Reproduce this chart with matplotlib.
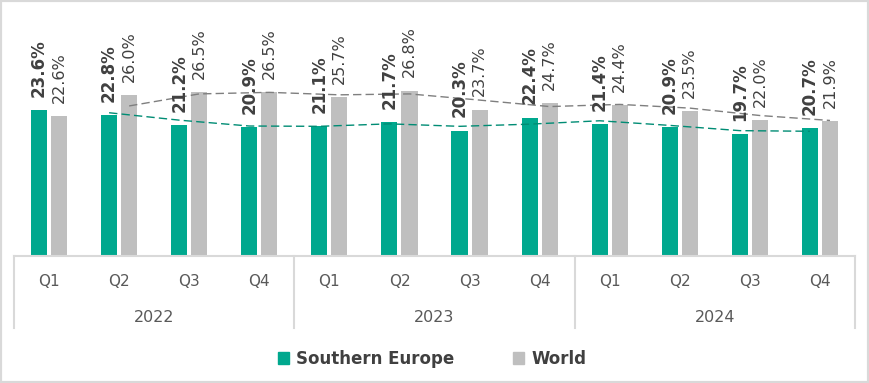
import matplotlib
matplotlib.use("Agg")
import matplotlib.pyplot as plt
from matplotlib.patches import Patch, Rectangle
import numpy as np
import pandas as pd

quarters = ['Q1', 'Q2', 'Q3', 'Q4'] * 3
years = ['2022', '2023', '2024']
southern_europe = [23.6, 22.8, 21.2, 20.9, 21.1, 21.7, 20.3, 22.4, 21.4, 20.9, 19.7, 20.7]
world = [22.6, 26.0, 26.5, 26.5, 25.7, 26.8, 23.7, 24.7, 24.4, 23.5, 22.0, 21.9]

teal = '#00A88E'
grey = '#BFBFBF'
txt = '#404040'
line_col = '#D9D9D9'

W, H = 869, 383
fig = plt.figure(figsize=(W / 100, H / 100), dpi=100)
ax = fig.add_axes([14 / W, (H - 256) / H, (855 - 14) / W, (256 - 9) / H])

x = np.arange(len(quarters))
off = 0.143
bw = 0.23
ax.bar(x - off, southern_europe, bw, color=teal)
ax.bar(x + off, world, bw, color=grey)

for xi, v in zip(x, southern_europe):
    ax.annotate(f'{v:.1f}%', (xi - off, v), xytext=(0, 9.5), textcoords='offset points',
                rotation=90, ha='center', va='bottom', fontsize=12,
                fontweight='bold', color=txt)
for xi, v in zip(x, world):
    ax.annotate(f'{v:.1f}%', (xi + off, v), xytext=(0, 9.5), textcoords='offset points',
                rotation=90, ha='center', va='bottom', fontsize=11.5, color=txt)

# 2-period moving average trendlines
se_ma = pd.Series(southern_europe).rolling(2).mean()
w_ma = pd.Series(world).rolling(2).mean()
ax.plot(x[1:] - off, se_ma[1:], ls=(0, (6, 3)), color='#008C74', lw=1)
ax.plot(x[1:] + off, w_ma[1:], ls=(0, (6, 3)), color='#7F7F7F', lw=1)

ax.set_xlim(-0.5, 11.5)
ax.set_ylim(0, 40)
for s in ['top', 'left', 'right']:
    ax.spines[s].set_visible(False)
ax.spines['bottom'].set_color(line_col)
ax.spines['bottom'].set_linewidth(1.5)
ax.set_xticks([])
ax.set_yticks([])

# category table below the axis
px = 1 / 247
tr = ax.get_xaxis_transform()
for xb in [-0.5, 3.5, 7.5, 11.5]:
    ax.plot([xb, xb], [0, -72 * px], color=line_col, lw=1.5, transform=tr, clip_on=False)
for xi, q in zip(x, quarters):
    ax.text(xi, -26 * px, q, transform=tr, ha='center', va='center', fontsize=11, color='#595959')
for i, yr in enumerate(years):
    ax.text(4 * i + 1.5, -61 * px, yr, transform=tr, ha='center', va='center', fontsize=11.5, color='#595959')

handles = [Patch(color=teal), Patch(color=grey)]
leg = fig.legend(handles, ['Southern Europe', 'World'], loc='center', bbox_to_anchor=(0.497, 24 / H),
                 ncol=2, frameon=False, handlelength=0.7, handleheight=0.7, handletextpad=0.4,
                 columnspacing=3.5, prop={'weight': 'bold', 'size': 12})
for t in leg.get_texts():
    t.set_color(txt)

fig.patches.append(Rectangle((0, 0), 1, 1, transform=fig.transFigure, fill=False,
                             edgecolor=line_col, lw=3))

fig.savefig('out.png', dpi=100)
